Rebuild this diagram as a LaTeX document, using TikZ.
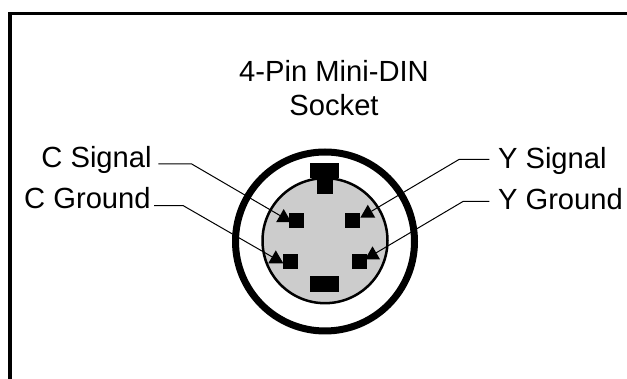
\documentclass[tikz,border=0pt]{standalone}
\usepackage{fontspec}
\setmainfont{Liberation Sans}
\usetikzlibrary{shapes.geometric}
\tikzset{
    pinbox/.style={rectangle,fill=black,inner sep=0pt,outer sep=0pt},
    pinmark/.style={regular polygon,regular polygon sides=3,fill=black,inner sep=0pt,outer sep=0pt,minimum size=10.4pt},
    pinlabel/.style={inner ysep=0pt,inner xsep=0pt,font=\fontsize{17.5}{20.4}\selectfont},
    leader/.style={draw=black,line width=0.6pt}
}
\begin{document}
\begin{tikzpicture}[x=0.6pt,y=-0.6pt]
    \useasboundingbox (0,0) rectangle (627,379);
    \draw[line width=1.9pt] (10,379) -- (10,13.5) -- (627,13.5);

    \node (title) at (334,88)[pinlabel,align=center]{4-Pin Mini-DIN\\Socket};

    % socket
    \draw[line width=4.2pt] (325,241.5) circle (89.5);
    \node (shell) at (325,240.7)[circle,draw=black,fill=black!20,line width=1.5pt,minimum size=75pt,inner sep=0pt,outer sep=0pt]{};

    % pins
    \node (key) at (324.5,170.5)[pinbox,minimum width=17.4pt,minimum height=9.4pt]{};
    \node (keybot) at (324.5,284)[pinbox,minimum width=17.4pt,minimum height=9.2pt]{};
    \foreach \nm/\x/\y in {keypin/325/186,csig/296.7/220.5,ysig/352.5/220.5,cgnd/290.7/261.7,ygnd/359.2/261.7}
        \node (\nm) at (\x,\y)[pinbox,minimum size=9.2pt]{};

    % labels and leaders
    \node (clabelsig) at (152,168)[pinlabel,anchor=base east]{C Signal};
    \node (clabelgnd) at (151,209)[pinlabel,anchor=base east]{C Ground};
    \node (ylabelsig) at (497.7,168.3)[pinlabel,anchor=base west]{Y Signal};
    \node (ylabelgnd) at (497.7,209.3)[pinlabel,anchor=base west]{Y Ground};

    \coordinate (csigbend) at (191.7,164);
    \coordinate (cgndbend) at (183.3,205.7);
    \coordinate (ysigbend) at (459.3,159.3);
    \coordinate (ygndbend) at (463.3,201.3);

    \node (csigmark) at (283.7,217.7)[pinmark]{};
    \node (cgndmark) at (275.8,259)[pinmark]{};
    \node (ysigmark) at (367.8,213.4)[pinmark]{};
    \node (ygndmark) at (372.5,255)[pinmark]{};

    \draw[leader,shorten <=3.8pt] (clabelsig.east |- csigbend) -- (csigbend) -- (csigmark);
    \draw[leader,shorten <=1.8pt] (clabelgnd.east |- cgndbend) -- (cgndbend) -- (cgndmark);
    \draw[leader,shorten <=5pt] (ylabelsig.west |- ysigbend) -- (ysigbend) -- (ysigmark);
    \draw[leader,shorten <=5pt] (ylabelgnd.west |- ygndbend) -- (ygndbend) -- (ygndmark);
\end{tikzpicture}
\end{document}
